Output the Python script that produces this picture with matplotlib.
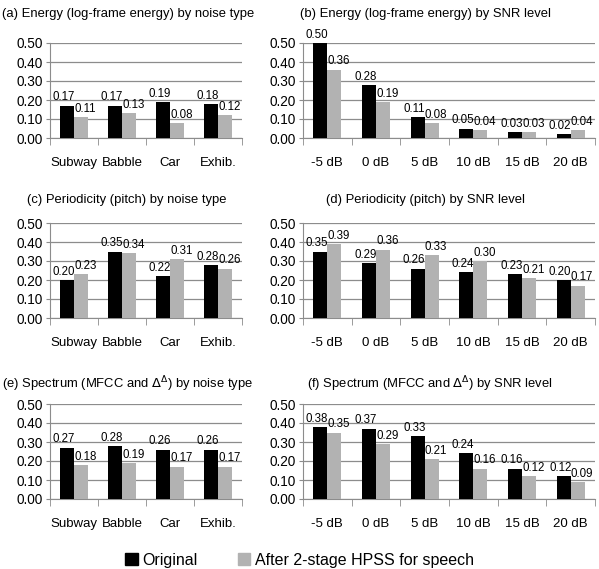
import numpy as np
import matplotlib.pyplot as plt
from matplotlib.patches import Patch

plt.rcParams['font.family'] = ['Liberation Sans', 'DejaVu Sans']

noise_types = ['Subway', 'Babble', 'Car', 'Exhib.']
snr_levels = ['-5 dB', '0 dB', '5 dB', '10 dB', '15 dB', '20 dB']

energy_noise_orig = [0.17, 0.17, 0.19, 0.18]
energy_noise_hpss = [0.11, 0.13, 0.08, 0.12]
energy_snr_orig = [0.50, 0.28, 0.11, 0.05, 0.03, 0.02]
energy_snr_hpss = [0.36, 0.19, 0.08, 0.04, 0.03, 0.04]

pitch_noise_orig = [0.20, 0.35, 0.22, 0.28]
pitch_noise_hpss = [0.23, 0.34, 0.31, 0.26]
pitch_snr_orig = [0.35, 0.29, 0.26, 0.24, 0.23, 0.20]
pitch_snr_hpss = [0.39, 0.36, 0.33, 0.30, 0.21, 0.17]

mfcc_noise_orig = [0.27, 0.28, 0.26, 0.26]
mfcc_noise_hpss = [0.18, 0.19, 0.17, 0.17]
mfcc_snr_orig = [0.38, 0.37, 0.33, 0.24, 0.16, 0.12]
mfcc_snr_hpss = [0.35, 0.29, 0.21, 0.16, 0.12, 0.09]

dd = r'$\mathit{\Delta}^{\Delta}$'
titles = ['(a) Energy (log-frame energy) by noise type',
          '(b) Energy (log-frame energy) by SNR level',
          '(c) Periodicity (pitch) by noise type',
          '(d) Periodicity (pitch) by SNR level',
          '(e) Spectrum (MFCC and ' + dd + ') by noise type',
          '(f) Spectrum (MFCC and ' + dd + ') by SNR level']

panels = [(noise_types, energy_noise_orig, energy_noise_hpss),
          (snr_levels, energy_snr_orig, energy_snr_hpss),
          (noise_types, pitch_noise_orig, pitch_noise_hpss),
          (snr_levels, pitch_snr_orig, pitch_snr_hpss),
          (noise_types, mfcc_noise_orig, mfcc_noise_hpss),
          (snr_levels, mfcc_snr_orig, mfcc_snr_hpss)]

W, H = 599, 569
fig = plt.figure(figsize=(W / 100, H / 100), dpi=100)

col_x = [(50, 192), (303, 292)]
row_top = [43, 223, 404]
ax_h = 95
title_y = [14, 200, 384]
# title anchor x and alignment per panel
title_pos = [(2, 'left'), (300, 'left'), (127, 'center'),
             (426, 'center'), (2, 'left'), (430, 'center')]

black = '#000000'
gray = '#b2b2b2'
grid_c = '#8c8c8c'
bw = 0.29

for i, (cats, orig, hpss) in enumerate(panels):
    r, c = divmod(i, 2)
    x0, w = col_x[c]
    ax = fig.add_axes([x0 / W, (H - row_top[r] - ax_h) / H, w / W, ax_h / H])
    x = np.arange(len(cats))
    ax.bar(x - bw / 2, orig, bw, color=black, zorder=3)
    ax.bar(x + bw / 2, hpss, bw, color=gray, zorder=3)
    for xi, v in zip(x, orig):
        ax.text(xi - bw / 2 - 0.07, v + 0.012, f'{v:.2f}', ha='center', va='bottom', fontsize=8.3, zorder=4)
    for xi, v in zip(x, hpss):
        ax.text(xi + bw / 2 + 0.09, v + 0.012, f'{v:.2f}', ha='center', va='bottom', fontsize=8.3, zorder=4)
    ax.set_ylim(0, 0.5)
    ax.set_xlim(-0.5, len(cats) - 0.5)
    ax.set_yticks(np.arange(0, 0.51, 0.1))
    ax.set_yticklabels([f'{t:.2f}' for t in np.arange(0, 0.51, 0.1)], fontsize=9.8)
    ax.yaxis.grid(True, color=grid_c, lw=0.9, zorder=0)
    ax.tick_params(axis='y', length=3, color=grid_c, pad=2)
    ax.set_xticks(x)
    ax.set_xticklabels(cats, fontsize=9.5)
    ax.tick_params(axis='x', length=0, pad=14)
    ax.set_xticks(np.arange(-0.5, len(cats)), minor=True)
    ax.tick_params(axis='x', which='minor', length=5, color=grid_c, direction='out')
    for s in ['top', 'right']:
        ax.spines[s].set_visible(False)
    for s in ['left', 'bottom']:
        ax.spines[s].set_color(grid_c)
    tx, ha = title_pos[i]
    fig.text(tx / W, 1 - title_y[r] / H, titles[i], ha=ha, va='center', fontsize=9.4)

handles = [Patch(color=black, label='Original'),
           Patch(color=gray, label='After 2-stage HPSS for speech')]
fig.legend(handles=handles, loc='center', bbox_to_anchor=(0.5, 1 - 560 / H), ncol=2,
           frameon=False, fontsize=11.5, handlelength=0.8, handleheight=0.8,
           handletextpad=0.3, columnspacing=2.5)

fig.savefig('out.png', dpi=100)
